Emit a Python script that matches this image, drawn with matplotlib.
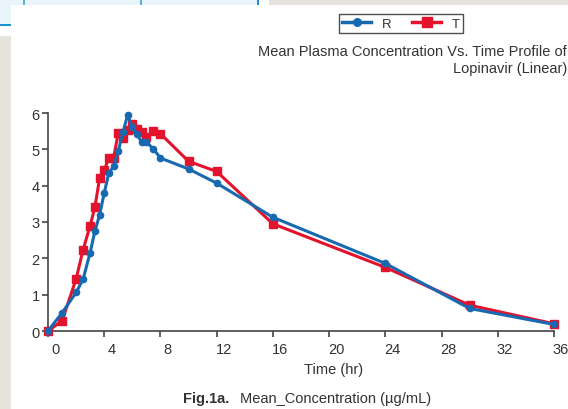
import matplotlib
matplotlib.use("Agg")
import matplotlib.pyplot as plt
import matplotlib.transforms as mtransforms
from matplotlib.patches import Rectangle
from matplotlib.lines import Line2D

plt.rcParams['font.family'] = ['Liberation Sans', 'DejaVu Sans']

# sampling times (hr)
time_hr = [0, 1, 2, 2.5, 3, 3.33, 3.67, 4, 4.33, 4.67, 5, 5.33, 5.67, 6,
           6.33, 6.67, 7, 7.5, 8, 10, 12, 16, 24, 30, 36]
# mean concentrations (ug/mL)
conc_R = [0, 0.5, 1.06, 1.43, 2.16, 2.74, 3.19, 3.8, 4.35, 4.53, 4.95, 5.47,
          5.95, 5.61, 5.41, 5.2, 5.2, 5.01, 4.76, 4.46, 4.07, 3.13, 1.86, 0.62, 0.18]
conc_T = [0, 0.28, 1.43, 2.24, 2.9, 3.4, 4.2, 4.42, 4.77, 4.77, 5.46, 5.31,
          5.52, 5.7, 5.55, 5.48, 5.34, 5.5, 5.43, 4.67, 4.39, 2.95, 1.75, 0.71, 0.2]
x_ticks = [0, 4, 8, 12, 16, 20, 24, 28, 32, 36]
y_ticks = [0, 1, 2, 3, 4, 5, 6]

W, H = 568, 410
blue = "#1769b0"
red = "#e3122d"
txt = "#333333"
fs = 10.5

fig = plt.figure(figsize=(W / 100, H / 100), dpi=100)

# page background pieces (screenshot surroundings)
def px_rect(x0, y0, x1, y1, color, z):
    fig.patches.append(Rectangle((x0 / W, 1 - y1 / H), (x1 - x0) / W, (y1 - y0) / H,
                                 transform=fig.transFigure, facecolor=color,
                                 edgecolor="none", zorder=z))

px_rect(0, 0, 258, 26, "#e9f4fb", -5)
px_rect(0, 37, 11, 410, "#e6e2dc", -5)
px_rect(269, 0, 568, 6, "#e6e2dc", -5)
px_rect(11, 6, 568, 410, "white", -4)
px_rect(23, 0, 25, 6, "#5aaee0", -3)
px_rect(140, 0, 142, 6, "#5aaee0", -3)
px_rect(257, 0, 259, 6, "#1e8fd0", -3)
px_rect(0, 25, 11, 27, "#1e8fd0", -3)

ax = fig.add_axes([48 / W, 1 - 332 / H, (554 - 48) / W, (332 - 114) / H])
ax.set_zorder(2)
ax.patch.set_alpha(0)

ax.plot(time_hr, conc_T, color=red, lw=2.2, marker="s", ms=6,
        clip_on=False, zorder=3)
ax.plot(time_hr, conc_R, color=blue, lw=2.2, marker="o", ms=4.5,
        clip_on=False, zorder=4)

ax.set_xlim(0, 36)
ax.set_ylim(0, 6)
ax.set_xticks(x_ticks)
ax.set_yticks(y_ticks)
for s in ["top", "right"]:
    ax.spines[s].set_visible(False)
for s in ["left", "bottom"]:
    ax.spines[s].set_color("#444444")
    ax.spines[s].set_linewidth(1.2)
ax.tick_params(direction="out", length=4, width=1.2, color="#444444",
               labelsize=fs, labelcolor=txt)
ax.tick_params(axis="x", pad=4)
ax.tick_params(axis="y", pad=2)

# x tick labels sit a little right of their ticks
shift = mtransforms.ScaledTranslation(7 / 100, 0, fig.dpi_scale_trans)
for lab in ax.get_xticklabels():
    lab.set_transform(lab.get_transform() + shift)

fig.text(334 / W, 1 - 370 / H, "Time (hr)", ha="center", va="center",
         fontsize=fs, color=txt)

# title, pushed against the right edge
fig.text(567 / W, 1 - 52 / H, "Mean Plasma Concentration Vs. Time Profile of",
         ha="right", va="center", fontsize=fs, color=txt)
fig.text(567 / W, 1 - 69 / H, "Lopinavir (Linear)",
         ha="right", va="center", fontsize=fs, color=txt)

# legend
handles = [Line2D([], [], color=blue, lw=2.5, marker="o", ms=5.5),
           Line2D([], [], color=red, lw=2.5, marker="s", ms=6.5)]
leg = fig.legend(handles, ["R", "T"], loc="center", ncol=2,
                 bbox_to_anchor=(401 / W, 1 - 24.5 / H), frameon=True,
                 fancybox=False, edgecolor="#222222", fontsize=fs - 1,
                 handlelength=2.2, handletextpad=0.8, columnspacing=1.6,
                 borderpad=0.25, borderaxespad=0)
leg.get_frame().set_linewidth(1.0)
for t in leg.get_texts():
    t.set_color(txt)

# caption
fig.text(183 / W, 1 - 399 / H, "Fig.1a.", ha="left", va="center",
         fontsize=fs, fontweight="bold", color=txt)
fig.text(240 / W, 1 - 399 / H, "Mean_Concentration (\u00b5g/mL)", ha="left",
         va="center", fontsize=fs, color=txt)

fig.savefig("out.png", dpi=100)
